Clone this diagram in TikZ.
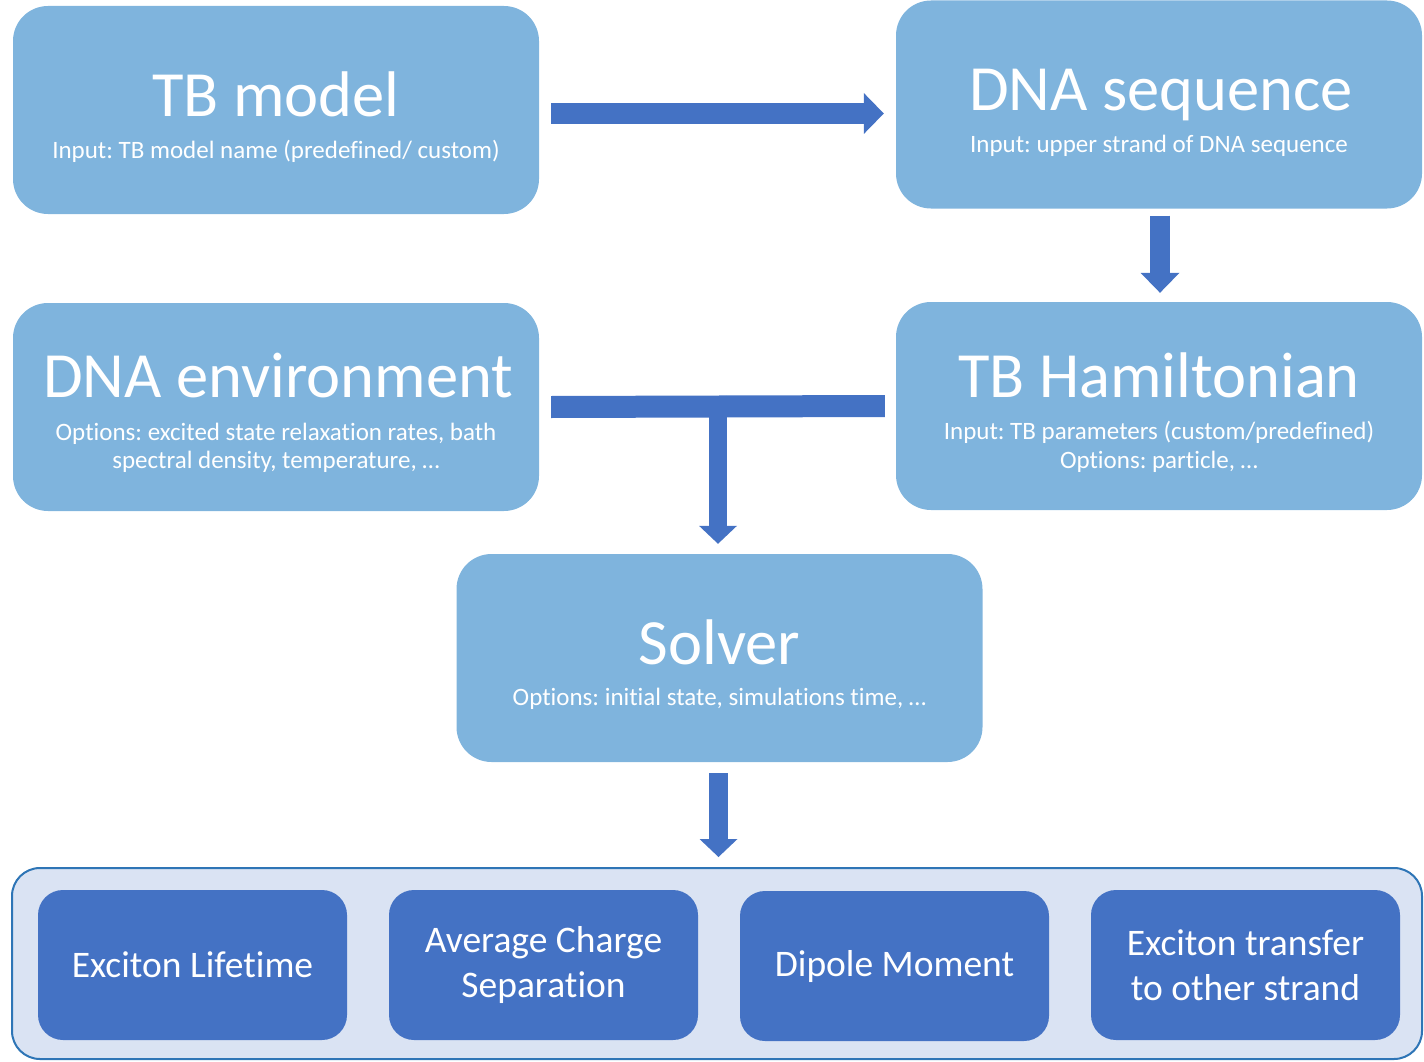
\documentclass[tikz,border=0pt]{standalone}
\usepackage{fontspec}
\setmainfont{Carlito}[Ligatures=NoCommon]
\usetikzlibrary{arrows.meta,calc}
\definecolor{boxblue}{RGB}{127,180,221}
\definecolor{arrowblue}{RGB}{68,114,196}
\definecolor{panelfill}{RGB}{218,227,243}
\definecolor{panelline}{RGB}{46,117,182}
\frenchspacing
\begin{document}
\begin{tikzpicture}[x=1pt,y=-1pt,
  bigbox/.style={fill=boxblue, draw=none, rounded corners=35pt, minimum width=526pt, minimum height=208pt, inner sep=0pt},
  titletext/.style={text=white, font=\fontsize{64.5}{66}\selectfont, anchor=base, inner sep=0pt},
  subtext/.style={text=white, font=\fontsize{25}{28}\selectfont, anchor=base, inner sep=0pt},
  resultbox/.style={fill=arrowblue, draw=none, rounded corners=25pt, minimum width=309pt, minimum height=150pt, inner sep=0pt, text=white, align=center, font=\fontsize{37.5}{45}\selectfont},
  panel/.style={fill=panelfill, draw=panelline, line width=2pt, rounded corners=28pt, minimum width=1410pt, minimum height=191pt, inner sep=0pt},
  fatarrow/.style n args={3}{draw=arrowblue, line width=#1, -{Triangle[width=#2,length=#3,line width=0pt]}},
  tbar/.style={draw=arrowblue, line width=22pt}
]
\useasboundingbox (0,0) rectangle (1424,1062);

% main boxes
\node[bigbox] (tb) at (276,110) {};
\node[bigbox] (seq) at (1159,104.5) {};
\node[bigbox] (env) at (276,407) {};
\node[bigbox] (ham) at (1159,406) {};
\node[bigbox] (solver) at (719.5,658) {};

% texts
\node[titletext] (tbT) at (276,117) {TB model};
\node[subtext] (tbS) at (276,158) {Input: TB model name (predefined/ custom)};
\node[titletext] (seqT) at (1161,111) {DNA sequence};
\node[subtext] (seqS) at (1159,153) {Input: upper strand of DNA sequence};
\node[titletext] (envT) at (278,397) {DNA environment};
\node[subtext] (envS1) at (276,440) {Options: excited state relaxation rates, bath};
\node[subtext] (envS2) at (276,468) {spectral density, temperature, …};
\node[titletext] (hamT) at (1159,397) {TB Hamiltonian};
\node[subtext] (hamS1) at (1159,439) {Input: TB parameters (custom/predefined)};
\node[subtext] (hamS2) at (1159,468) {Options: particle, …};
\node[titletext] (solT) at (719.5,664) {Solver};
\node[subtext] (solS) at (719.5,705) {Options: initial state, simulations time, …};

% results panel
\node[panel] (res) at (717,963.5) {};
\node[resultbox] (r1) at (192.5,965) {Exciton Lifetime};
\node[resultbox] (r2) at (543.5,965) {Average Charge\\Separation};
\node[resultbox] (r3) at (894.5,966) {Dipole Moment};
\node[resultbox] (r4) at (1245.5,965) {Exciton transfer\\to other strand};

% connectors
\draw[fatarrow={21pt}{41pt}{20pt}] ($(tb.east |- 0,113.5)+(12,0)$) -- ($(seq.west |- 0,113.5)+(-12,0)$);
\draw[fatarrow={20pt}{39pt}{20pt}] ($(seq.south)+(1,7)$) -- ($(ham.north)+(1,-9)$);
\draw[tbar] ($(env.east)+(12,0)$) -- coordinate (tj) ($(ham.west)+(-11,0)$);
\draw[fatarrow={18pt}{38pt}{18pt}] ($(tj)+(0,-11)$) -- ($(tj |- solver.north)+(0,-10)$);
\draw[fatarrow={19.5pt}{38pt}{18pt}] ($(solver.south)+(-1,11)$) -- ($(res.north -| solver.south)+(-1,-10)$);
\end{tikzpicture}
\end{document}
